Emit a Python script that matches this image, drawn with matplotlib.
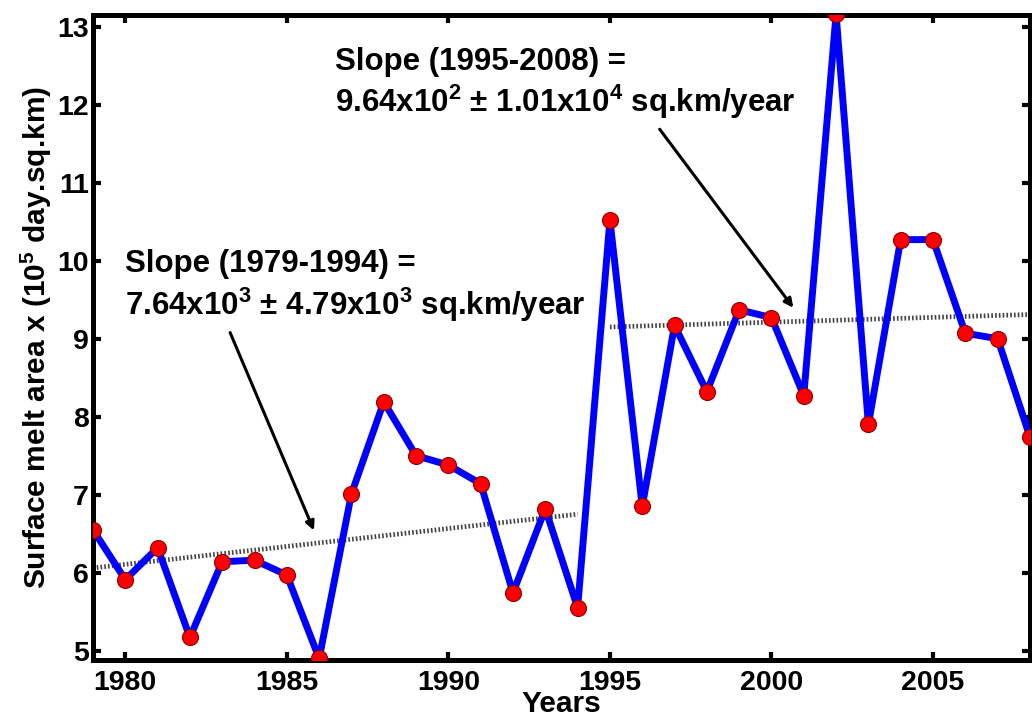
import numpy as np
import matplotlib
matplotlib.use("Agg")
import matplotlib.pyplot as plt

plt.rcParams['font.family'] = ['Liberation Sans', 'DejaVu Sans']
plt.rcParams['font.weight'] = 'bold'
plt.rcParams['mathtext.fontset'] = 'custom'
plt.rcParams['mathtext.bf'] = 'Liberation Sans:bold'
plt.rcParams['mathtext.rm'] = 'Liberation Sans:bold'
plt.rcParams['mathtext.default'] = 'bf'

# melt area per year (1e5 day.sq.km)
years = np.arange(1979, 2009)
melt = [6.56, 5.92, 6.33, 5.18, 6.15, 6.17, 5.98, 4.91, 7.02, 8.20,
        7.51, 7.39, 7.15, 5.75, 6.83, 5.56, 10.53, 6.86, 9.18, 8.33,
        9.38, 9.28, 8.28, 13.17, 7.91, 10.28, 10.28, 9.08, 9.01, 7.75]

# fitted trend ends
trend1_x = [1979, 1994]
trend1_y = [6.07, 6.76]
trend2_x = [1995, 2008]
trend2_y = [9.16, 9.32]

fig = plt.figure(figsize=(10.32, 7.2), dpi=100)
ax = fig.add_axes([0.0901, 0.0833, 0.9079, 0.8959])

ax.plot(trend1_x, trend1_y, color='#444444', lw=3.4, ls=(0, (0.35, 0.45)), zorder=2)
ax.plot(trend2_x, trend2_y, color='#444444', lw=3.4, ls=(0, (0.35, 0.45)), zorder=2)
ax.plot(years, melt, color='#0000ff', lw=5, zorder=3)
ax.plot(years, melt, 'o', ms=11.5, mfc='#ff0000', mec='#8b0000', mew=0.8, zorder=4)

ax.set_xlim(1979, 2008)
ax.set_ylim(4.89, 13.16)
ax.set_xticks([1980, 1985, 1990, 1995, 2000, 2005])
ax.set_yticks(range(5, 14))

for s in ax.spines.values():
    s.set_linewidth(3.6)
ax.tick_params(direction='in', length=6, width=3, top=True, right=True,
               labelsize=20.5, pad=3)
ax.tick_params(axis='x', pad=7)
for lab in ax.get_xticklabels() + ax.get_yticklabels():
    lab.set_fontweight('bold')

ax.set_xlabel('Years', fontsize=21.5, fontweight='bold', labelpad=-4)
ax.set_ylabel('Surface melt area x (10$^5$ day.sq.km)', fontsize=21.5,
              fontweight='bold', labelpad=2)

lines1 = ['Slope (1979-1994) =', '7.64x10$^3$ $\\pm$ 4.79x10$^3$ sq.km/year']
lines2 = ['Slope (1995-2008) =', '9.64x10$^2$ $\\pm$ 1.01x10$^4$ sq.km/year']

for (x0, ys), lines in [((125, (272, 315)), lines1), ((335, (70, 112)), lines2)]:
    for yb, s in zip(ys, lines):
        fig.text(x0 / 1032, 1 - yb / 720, s, fontsize=22.5, fontweight='bold',
                 va='baseline', ha='left')

ax.annotate('', xy=(315 / 1032, 1 - 533 / 720), xytext=(229 / 1032, 1 - 330 / 720),
            xycoords='figure fraction', textcoords='figure fraction',
            arrowprops=dict(arrowstyle='-|>', lw=2.2, color='k', mutation_scale=13))
ax.annotate('', xy=(795 / 1032, 1 - 310 / 720), xytext=(658 / 1032, 1 - 127 / 720),
            xycoords='figure fraction', textcoords='figure fraction',
            arrowprops=dict(arrowstyle='-|>', lw=2.2, color='k', mutation_scale=13))

fig.savefig('out.png', dpi=100)
